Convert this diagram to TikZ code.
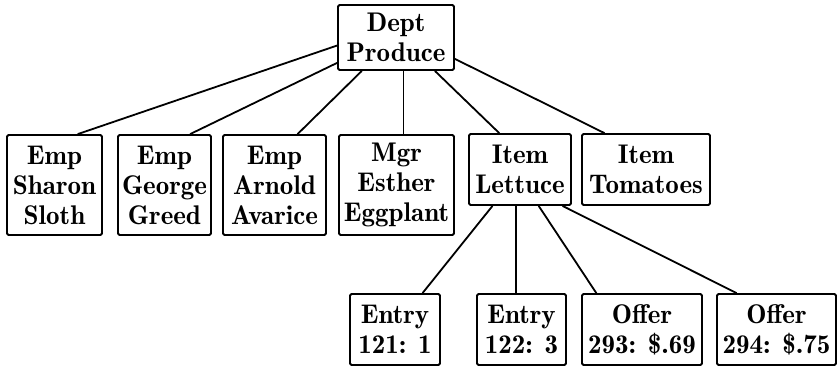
\documentclass[tikz,border=0pt]{standalone}
\usepackage{fontspec}
\newfontfamily\demifont{Latin Modern Roman Demi}
\usetikzlibrary{calc}
\begin{document}
\begin{tikzpicture}[x=1pt,y=-1pt,
  box/.style={draw,line width=1.8pt,rounded corners=1.5pt,inner sep=0pt,align=center,
    font=\demifont\fontsize{27}{30}\selectfont},
  link/.style={line width=1.8pt}]
\useasboundingbox (0,0) rectangle (839,368);

% root
\node[box,minimum width=116pt,minimum height=65pt] (dept) at (396,37.5) {Dept\\Produce};

% second level
\node[box,minimum width=95pt,minimum height=100pt]  (sharon)  at (54.5,185) {Emp\\Sharon\\Sloth};
\node[box,minimum width=93pt,minimum height=100pt]  (george)  at (164.5,185) {Emp\\George\\Greed};
\node[box,minimum width=103pt,minimum height=100pt] (arnold)  at (274.5,185) {Emp\\Arnold\\Avarice};
\node[box,minimum width=115pt,minimum height=100pt] (esther)  at (396.5,185) {Mgr\\Esther\\Eggplant};
\node[box,minimum width=102pt,minimum height=71pt]  (lettuce) at (520,169.5) {Item\\Lettuce};
\node[box,minimum width=128pt,minimum height=71pt]  (tomato)  at (646,169.5) {Item\\Tomatoes};

% third level
\node[box,minimum width=90pt,minimum height=71pt]  (e121) at (395,329.5) {Entry\\121: 1};
\node[box,minimum width=89pt,minimum height=71pt]  (e122) at (521.5,329.5) {Entry\\122: 3};
\node[box,minimum width=120pt,minimum height=71pt] (o293) at (642,329.5) {Offer\\293: \$.69};
\node[box,minimum width=119pt,minimum height=71pt] (o294) at (776.5,329.5) {Offer\\294: \$.75};

% connectors from the department
\draw[link] ($(dept.north west)!0.62!(dept.south west)$) -- ($(sharon.north west)!0.74!(sharon.north east)$);
\draw[link] ($(dept.north west)!0.88!(dept.south west)$) -- ($(george.north west)!0.77!(george.north east)$);
\draw[link] ($(dept.south west)!0.21!(dept.south east)$) -- ($(arnold.north west)!0.72!(arnold.north east)$);
\coordinate (mtop) at ($(esther.north west)!0.56!(esther.north east)$);
\draw[link] (mtop |- dept.south) -- (mtop);
\draw[link] ($(dept.south west)!0.83!(dept.south east)$) -- ($(lettuce.north west)!0.30!(lettuce.north east)$);
\draw[link] ($(dept.north east)!0.82!(dept.south east)$) -- ($(tomato.north west)!0.18!(tomato.north east)$);

% connectors from the lettuce item
\draw[link] ($(lettuce.south west)!0.235!(lettuce.south east)$) -- ($(e121.north west)!0.80!(e121.north east)$);
\coordinate (etop) at ($(e122.north west)!0.44!(e122.north east)$);
\draw[link] (etop |- lettuce.south) -- (etop);
\draw[link] ($(lettuce.south west)!0.68!(lettuce.south east)$) -- ($(o293.north west)!0.125!(o293.north east)$);
\draw[link] ($(lettuce.south west)!0.91!(lettuce.south east)$) -- ($(o294.north west)!0.17!(o294.north east)$);
\end{tikzpicture}
\end{document}
